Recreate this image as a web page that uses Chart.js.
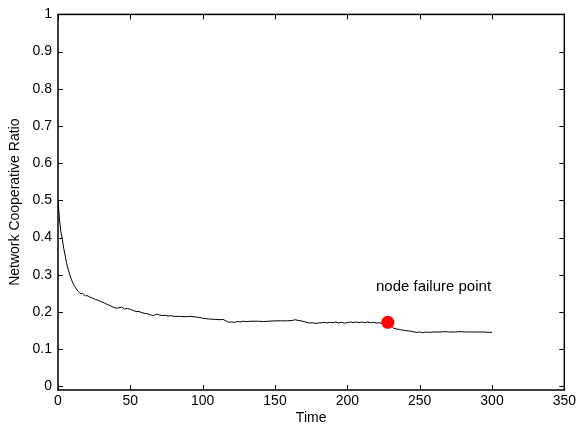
<!DOCTYPE html>
<html>
<head>
<meta charset="utf-8">
<script src="https://cdn.jsdelivr.net/npm/chart.js@4"></script>
<style>
  html, body { margin: 0; padding: 0; background: #fff; }
  #wrap { width: 579px; height: 427px; }
</style>
</head>
<body>
<div id="wrap"><canvas id="chart"></canvas></div>
<script>
// data
var time = [0,1,2,3,4,5,6,7,8,9,10,11,12,13,14,15,16,17,18,19,20,22,24,26,28,30,32,34,36,38,40,42,44,46,48,50,
  52,54,56,58,60,62,64,66,68,70,72,74,76,78,80,84,88,92,96,98,100,102,104,108,112,114,116,118,120,122,124,126,128,130,
  134,138,142,146,150,154,158,162,164,166,168,170,172,174,176,178,180,182,184,186,188,190,192,194,196,198,200,
  202,204,206,208,210,212,214,216,218,220,222,224,226,228,230,232,234,236,238,240,242,244,246,248,250,252,254,256,
  260,264,268,270,274,278,282,286,290,294,298,300];
var ratio = [0.5,0.45,0.415,0.395,0.37,0.35,0.33,0.315,0.302,0.29,0.28,0.272,0.266,0.26,0.255,0.251,0.249,0.25,0.246,0.243,0.244,0.24,0.237,0.233,0.231,0.227,0.224,0.22,0.217,0.213,0.21,0.211,0.213,0.208,0.209,0.207,
  0.204,0.201,0.201,0.198,0.196,0.195,0.192,0.19,0.194,0.192,0.19,0.191,0.189,0.19,0.188,0.188,0.187,0.188,0.186,0.185,0.183,0.182,0.181,0.18,0.179,0.18,0.176,0.172,0.173,0.172,0.174,0.173,0.175,0.174,
  0.175,0.175,0.174,0.175,0.176,0.176,0.176,0.177,0.179,0.177,0.176,0.174,0.172,0.17,0.171,0.169,0.17,0.171,0.172,0.17,0.172,0.171,0.173,0.17,0.172,0.17,0.171,
  0.173,0.171,0.173,0.171,0.173,0.171,0.173,0.171,0.172,0.17,0.171,0.169,0.171,0.172,0.166,0.156,0.154,0.153,0.151,0.15,0.149,0.148,0.146,0.145,0.146,0.144,0.146,0.145,
  0.146,0.146,0.147,0.146,0.146,0.147,0.146,0.146,0.146,0.146,0.145,0.145];
var failurePoint = [{x: 228, y: 0.172}];
var failureLabel = 'node failure point';
var failureLabelPos = {x: 219.8, y: 0.268};
var xTicks = [0,50,100,150,200,250,300,350];
var yTicks = [0,0.1,0.2,0.3,0.4,0.5,0.6,0.7,0.8,0.9,1];

var series = time.map(function(t, i) { return {x: t, y: ratio[i]}; });
var font = 'Liberation Sans, Arial, sans-serif';

// matlab style box with ticks pointing inwards + the text label
var boxPlugin = {
  id: 'box',
  afterDraw: function(chart) {
    var ctx = chart.ctx, a = chart.chartArea;
    var xs = chart.scales.x, ys = chart.scales.y;
    var len = 5;
    ctx.save();
    ctx.strokeStyle = '#000';
    ctx.lineWidth = 1;
    ctx.beginPath();
    xTicks.forEach(function(v) {
      var px = Math.round(xs.getPixelForValue(v)) + 0.5;
      ctx.moveTo(px, a.bottom); ctx.lineTo(px, a.bottom - len);
      ctx.moveTo(px, a.top); ctx.lineTo(px, a.top + len);
    });
    yTicks.forEach(function(v) {
      var py = Math.round(ys.getPixelForValue(v)) + 0.5;
      ctx.moveTo(a.left, py); ctx.lineTo(a.left + len, py);
      ctx.moveTo(a.right, py); ctx.lineTo(a.right - len, py);
    });
    ctx.stroke();
    ctx.lineWidth = 1.5;
    ctx.strokeRect(a.left, a.top, a.right - a.left, a.bottom - a.top);

    ctx.fillStyle = '#000';
    ctx.font = '15px ' + font;
    ctx.textBaseline = 'middle';
    ctx.textAlign = 'left';
    ctx.fillText(failureLabel, xs.getPixelForValue(failureLabelPos.x), ys.getPixelForValue(failureLabelPos.y));
    ctx.restore();
  }
};

new Chart(document.getElementById('chart'), {
  type: 'scatter',
  data: {
    datasets: [{
      label: 'failure',
      data: failurePoint,
      pointRadius: 6.5,
      pointBackgroundColor: '#ff0000',
      pointBorderColor: '#ff0000',
      pointBorderWidth: 0,
      showLine: false
    }, {
      label: 'ratio',
      data: series,
      showLine: true,
      borderColor: '#000',
      borderWidth: 1,
      pointRadius: 0,
      tension: 0
    }]
  },
  options: {
    responsive: true,
    maintainAspectRatio: false,
    animation: false,
    devicePixelRatio: 1,
    layout: { padding: { top: 14, right: 11, left: 0, bottom: 0 } },
    plugins: { legend: { display: false }, tooltip: { enabled: false } },
    scales: {
      x: {
        type: 'linear',
        min: 0, max: 350,
        grid: { display: false, drawTicks: false },
        border: { display: false },
        afterBuildTicks: function(s) { s.ticks = xTicks.map(function(v) { return {value: v}; }); },
        afterFit: function(s) { s.height = 37; },
        ticks: { color: '#000', font: { family: font, size: 14 }, padding: 3, maxRotation: 0 },
        title: { display: true, text: 'Time', color: '#000', font: { family: font, size: 14 }, padding: { top: 0, bottom: 0 } }
      },
      y: {
        type: 'linear',
        min: -0.01, max: 1,
        grid: { display: false, drawTicks: false },
        border: { display: false },
        afterBuildTicks: function(s) { s.ticks = yTicks.map(function(v) { return {value: v}; }); },
        afterFit: function(s) { s.width = 58; },
        ticks: {
          color: '#000', font: { family: font, size: 14 }, padding: 6,
          callback: function(v) { return String(Math.round(v * 10) / 10); }
        },
        title: { display: true, text: 'Network Cooperative Ratio', color: '#000', font: { family: font, size: 14 }, padding: { top: 7, bottom: 0 } }
      }
    }
  },
  plugins: [boxPlugin]
});
</script>
</body>
</html>
